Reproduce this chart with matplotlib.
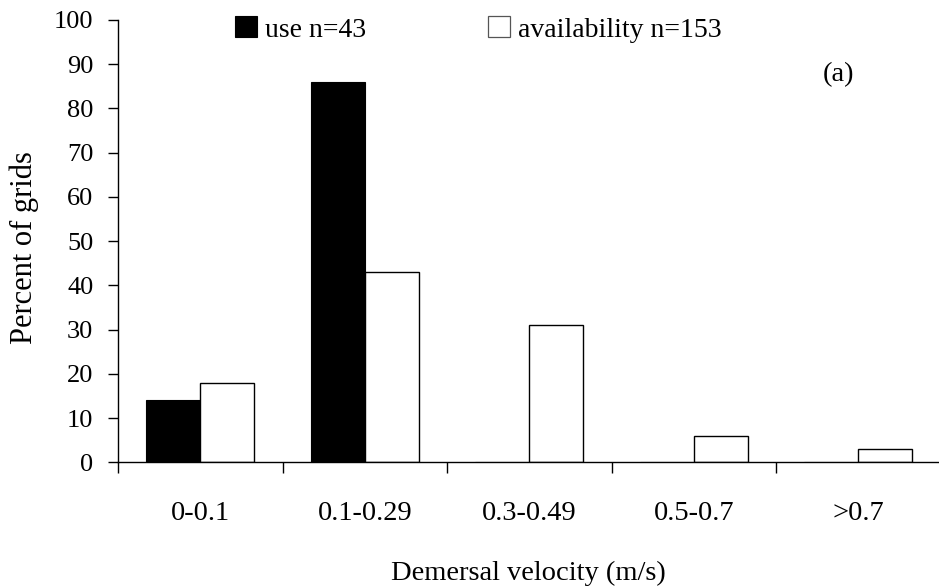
import matplotlib.pyplot as plt
import matplotlib.ticker as ticker
from matplotlib.patches import Rectangle
import numpy as np

categories = ["0-0.1", "0.1-0.29", "0.3-0.49", "0.5-0.7", ">0.7"]
use_pct = [14, 86, 0, 0, 0]
avail_pct = [18, 43, 31, 6, 3]

plt.rcParams['font.family'] = ['Liberation Serif', 'DejaVu Serif']

W, H = 939, 586
fig = plt.figure(figsize=(W / 100, H / 100), dpi=100)
ax = fig.add_axes([118 / W, 1 - 462.3 / H, 822.5 / W, 442.3 / H])

x = np.arange(len(categories))
w = 0.328
ax.bar(x - w / 2, use_pct, w, color='black', edgecolor='black', linewidth=0.8)
ax.bar(x + w / 2, avail_pct, w, color='white', edgecolor='black', linewidth=1.0)

ax.set_xlim(-0.5, len(categories) - 0.5)
ax.set_ylim(0, 100)

for s in ['top', 'right']:
    ax.spines[s].set_visible(False)
for s in ['left', 'bottom']:
    ax.spines[s].set_linewidth(1.0)

ax.yaxis.set_major_locator(ticker.MultipleLocator(10))
ax.tick_params(axis='y', direction='out', length=7.2, width=1.0, labelsize=19, pad=10.5)

# ticks on the category boundaries, labels at the centres
ax.set_xticks(np.arange(len(categories) + 1) - 0.5)
ax.set_xticklabels([])
ax.set_xticks(x, minor=True)
ax.set_xticklabels(categories, minor=True)
ax.tick_params(axis='x', which='major', direction='out', length=8, width=1.0)
ax.tick_params(axis='x', which='minor', length=0, labelsize=20.5, pad=28)

fig.text(24.5 / W, 1 - 248 / H, 'Percent of grids', rotation=90, fontsize=22,
         ha='center', va='center')
fig.text(528.5 / W, 1 - 580 / H, 'Demersal velocity (m/s)', fontsize=20.5,
         ha='center', va='baseline')

# legend drawn by hand: filled and open squares with their texts
fig.patches.append(Rectangle((235 / W, 1 - 37 / H), 22 / W, 21 / H, transform=fig.transFigure,
                             facecolor='black', edgecolor='black', linewidth=0.8))
fig.text(265 / W, 1 - 37 / H, 'use n=43', fontsize=20, ha='left', va='baseline')
fig.patches.append(Rectangle((487.5 / W, 1 - 37 / H), 22 / W, 21 / H, transform=fig.transFigure,
                             facecolor='white', edgecolor='#555555', linewidth=0.9))
fig.text(518 / W, 1 - 37 / H, 'availability n=153', fontsize=20, ha='left', va='baseline')

fig.text(838 / W, 1 - 75 / H, '(a)', fontsize=20.5, ha='center', va='center')

fig.savefig('out.png', dpi=100)
